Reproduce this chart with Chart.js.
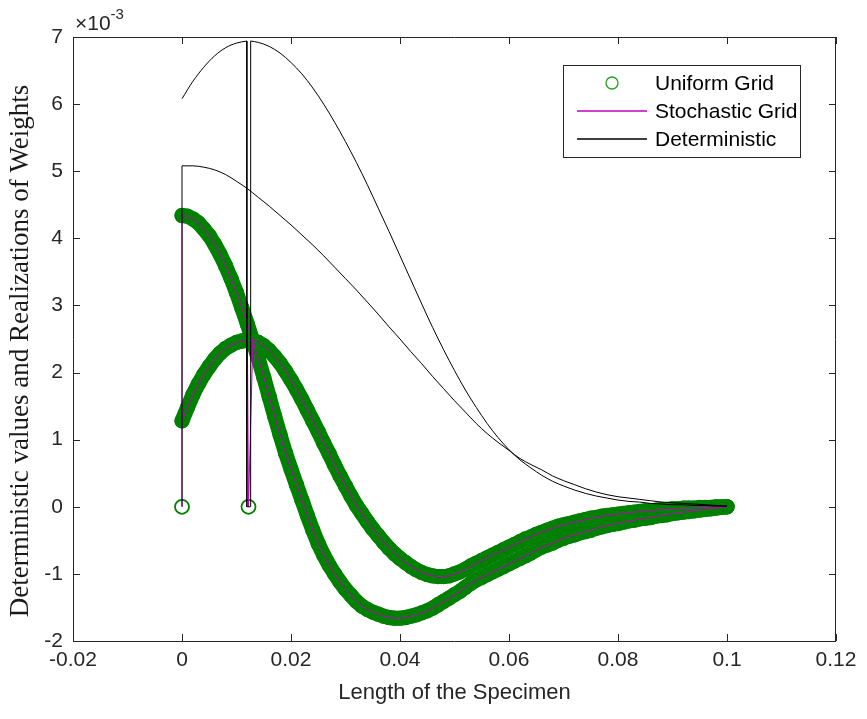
<!DOCTYPE html>
<html>
<head>
<meta charset="utf-8">
<script src="https://cdn.jsdelivr.net/npm/chart.js@4.4.1/dist/chart.umd.min.js"></script>
<style>
  html, body { margin: 0; padding: 0; background: #fff; }
  #wrap { position: relative; width: 867px; height: 719px; }
</style>
</head>
<body>
<div id="wrap"><canvas id="weightsChart"></canvas></div>
<script>
// x positions of the uniform grid (length of the specimen)
const gridX = [
  0, 0.001, 0.002, 0.003, 0.004, 0.005, 0.006, 0.007, 0.008, 0.009,
  0.010, 0.011, 0.012, 0.013, 0.014, 0.015, 0.016, 0.017, 0.018, 0.019,
  0.020, 0.021, 0.022, 0.023, 0.024, 0.025, 0.026, 0.027, 0.028, 0.029,
  0.030, 0.031, 0.032, 0.033, 0.034, 0.035, 0.036, 0.037, 0.038, 0.039,
  0.040, 0.041, 0.042, 0.043, 0.044, 0.045, 0.046, 0.047, 0.048, 0.049,
  0.050, 0.051, 0.052, 0.053, 0.054, 0.055, 0.056, 0.057, 0.058, 0.059,
  0.060, 0.061, 0.062, 0.063, 0.064, 0.065, 0.066, 0.067, 0.068, 0.069,
  0.070, 0.071, 0.072, 0.073, 0.074, 0.075, 0.076, 0.077, 0.078, 0.079,
  0.080, 0.081, 0.082, 0.083, 0.084, 0.085, 0.086, 0.087, 0.088, 0.089,
  0.090, 0.091, 0.092, 0.093, 0.094, 0.095, 0.096, 0.097, 0.098, 0.099,
  0.100
];

// realization peaked at x = 0 (values x 1e-3)
const weightsA = [
  4.34, 4.33, 4.29, 4.23, 4.14, 4.04, 3.91, 3.76, 3.59, 3.40,
  3.19, 2.96, 2.72, 2.47, 2.21, 1.93, 1.64, 1.35, 1.07, 0.80,
  0.56, 0.33, 0.10, -0.13, -0.35, -0.55, -0.72, -0.87, -1.00, -1.12,
  -1.23, -1.32, -1.41, -1.48, -1.53, -1.57, -1.60, -1.63, -1.65, -1.66,
  -1.66, -1.65, -1.63, -1.61, -1.58, -1.55, -1.51, -1.46, -1.41, -1.36,
  -1.31, -1.26, -1.20, -1.14, -1.09, -1.05, -1.01, -0.97, -0.93, -0.89,
  -0.85, -0.81, -0.77, -0.73, -0.69, -0.64, -0.60, -0.57, -0.54, -0.50,
  -0.47, -0.44, -0.42, -0.39, -0.37, -0.35, -0.32, -0.30, -0.28, -0.26,
  -0.25, -0.23, -0.21, -0.20, -0.18, -0.17, -0.16, -0.14, -0.13, -0.12,
  -0.10, -0.09, -0.08, -0.07, -0.06, -0.05, -0.04, -0.03, -0.02, -0.01,
  0.00
];

// realization peaked near x = 0.012 (values x 1e-3)
const weightsB = [
  1.28, 1.48, 1.67, 1.83, 1.97, 2.09, 2.20, 2.29, 2.36, 2.41,
  2.45, 2.47, 2.48, 2.48, 2.45, 2.40, 2.33, 2.24, 2.14, 2.02,
  1.89, 1.75, 1.60, 1.44, 1.28, 1.12, 0.95, 0.79, 0.62, 0.46,
  0.31, 0.16, 0.02, -0.10, -0.22, -0.33, -0.43, -0.53, -0.62, -0.70,
  -0.77, -0.83, -0.89, -0.94, -0.98, -1.01, -1.03, -1.04, -1.04, -1.03,
  -1.00, -0.97, -0.93, -0.88, -0.84, -0.80, -0.76, -0.72, -0.68, -0.64,
  -0.60, -0.56, -0.52, -0.48, -0.45, -0.41, -0.38, -0.35, -0.32, -0.29,
  -0.27, -0.25, -0.23, -0.21, -0.19, -0.17, -0.16, -0.14, -0.13, -0.12,
  -0.11, -0.10, -0.09, -0.08, -0.07, -0.06, -0.06, -0.05, -0.04, -0.04,
  -0.03, -0.03, -0.02, -0.02, -0.02, -0.01, -0.01, -0.01, 0.00, 0.00,
  0.00
];

// the two nodes where the weights drop to zero
const nodeX = [0, 0.0122];
const nodeY = [0, 0];

// deterministic weight centred on the 0.012 node: rising part, notch, falling part
const detTallLeftX = [0, 0.002, 0.004, 0.006, 0.008, 0.010, 0.0119];
const detTallLeftY = [6.08, 6.34, 6.55, 6.72, 6.84, 6.91, 6.94];
const detNotchX = [0.0119, 0.0119, 0.0126, 0.0126];
const detNotchY = [6.94, 0, 0, 6.94];
const detTallRightX = [
  0.0126, 0.014, 0.016, 0.018, 0.020, 0.022, 0.024, 0.026, 0.028, 0.030,
  0.032, 0.034, 0.036, 0.038, 0.040, 0.042, 0.044, 0.046, 0.048, 0.050,
  0.052, 0.054, 0.056, 0.058, 0.060, 0.062, 0.064, 0.066, 0.068, 0.070,
  0.072, 0.074, 0.076, 0.078, 0.080, 0.082, 0.084, 0.086, 0.088, 0.090,
  0.092, 0.094, 0.096, 0.098, 0.100
];
const detTallRightY = [
  6.94, 6.92, 6.86, 6.76, 6.62, 6.45, 6.24, 6.00, 5.73, 5.44,
  5.13, 4.80, 4.45, 4.10, 3.74, 3.38, 3.02, 2.67, 2.34, 2.03,
  1.74, 1.48, 1.24, 1.03, 0.85, 0.70, 0.58, 0.47, 0.38, 0.31,
  0.25, 0.20, 0.16, 0.13, 0.10, 0.08, 0.07, 0.05, 0.04, 0.03,
  0.03, 0.02, 0.02, 0.01, 0.01
];

// deterministic weight centred on the 0 node
const detWideStemX = [0, 0];
const detWideStemY = [0, 5.08];
const detWideX = [
  0, 0.002, 0.004, 0.006, 0.008, 0.010, 0.012, 0.014, 0.016, 0.018,
  0.020, 0.022, 0.024, 0.026, 0.028, 0.030, 0.032, 0.034, 0.036, 0.038,
  0.040, 0.042, 0.044, 0.046, 0.048, 0.050, 0.052, 0.054, 0.056, 0.058,
  0.060, 0.062, 0.064, 0.066, 0.068, 0.070, 0.072, 0.074, 0.076, 0.078,
  0.080, 0.082, 0.084, 0.086, 0.088, 0.090, 0.092, 0.094, 0.096, 0.098,
  0.100
];
const detWideY = [
  5.08, 5.08, 5.06, 5.02, 4.95, 4.85, 4.74, 4.61, 4.48, 4.34,
  4.20, 4.05, 3.90, 3.74, 3.57, 3.40, 3.23, 3.05, 2.87, 2.68,
  2.50, 2.31, 2.13, 1.94, 1.76, 1.58, 1.41, 1.24, 1.09, 0.96,
  0.84, 0.72, 0.63, 0.55, 0.46, 0.39, 0.33, 0.27, 0.22, 0.18,
  0.15, 0.13, 0.11, 0.09, 0.07, 0.06, 0.05, 0.04, 0.03, 0.02,
  0.01
];

const xTicks = [-0.02, 0, 0.02, 0.04, 0.06, 0.08, 0.1, 0.12];
const xTickLabels = ['-0.02', '0', '0.02', '0.04', '0.06', '0.08', '0.1', '0.12'];
const yTicks = [-2, -1, 0, 1, 2, 3, 4, 5, 6, 7];
const yTickLabels = ['-2', '-1', '0', '1', '2', '3', '4', '5', '6', '7'];
const legendLabels = ['Uniform Grid', 'Stochastic Grid', 'Deterministic'];
const yTitle = 'Deterministic values and Realizations of Weights';

const GREEN = '#008000';
const PURPLE = '#c000c0';
const AXIS = '#262626';
const SANS = '"Liberation Sans", Arial, sans-serif';
const SERIF = '"Liberation Serif", "Times New Roman", serif';

function pairs(xs, ys) {
  return xs.map((x, i) => ({ x: x, y: ys[i] }));
}

const lineA = pairs(gridX, weightsA);
const lineB = pairs(gridX, weightsB);

// node at 0 belongs to realization A, node at 0.0122 to realization B
const stochA = [{ x: nodeX[0], y: nodeY[0] }].concat(lineA);
const stochB = lineB.slice(0, 13).concat([{ x: nodeX[1], y: nodeY[1] }], lineB.slice(13));

// box, inward ticks, exponent, y label and legend in MATLAB style
const matlabFrame = {
  id: 'matlabFrame',
  afterDatasetsDraw(chart) {
    const { ctx, chartArea: a, scales: { x, y } } = chart;
    ctx.save();
    ctx.strokeStyle = AXIS;
    ctx.lineWidth = 1;
    ctx.beginPath();
    ctx.rect(a.left + 0.5, a.top + 0.5, a.right - a.left - 1, a.bottom - a.top);
    xTicks.forEach(v => {
      const px = Math.round(x.getPixelForValue(v)) + 0.5;
      ctx.moveTo(px, a.bottom); ctx.lineTo(px, a.bottom - 7);
      ctx.moveTo(px, a.top); ctx.lineTo(px, a.top + 7);
    });
    yTicks.forEach(v => {
      const py = Math.round(y.getPixelForValue(v)) + 0.5;
      ctx.moveTo(a.left, py); ctx.lineTo(a.left + 7, py);
      ctx.moveTo(a.right, py); ctx.lineTo(a.right - 7, py);
    });
    ctx.stroke();

    // x 10^-3 multiplier
    ctx.fillStyle = AXIS;
    ctx.textBaseline = 'alphabetic';
    ctx.textAlign = 'left';
    ctx.font = '21px ' + SANS;
    ctx.fillText('\u00d710', a.left + 2, a.top - 7);
    const w = ctx.measureText('\u00d710').width;
    ctx.font = '15px ' + SANS;
    ctx.fillText('-3', a.left + 2 + w, a.top - 18);

    // y axis label (LaTeX style serif)
    ctx.save();
    ctx.translate(21, a.top + 314);
    ctx.rotate(-Math.PI / 2);
    ctx.textAlign = 'center';
    ctx.textBaseline = 'middle';
    ctx.font = '27px ' + SERIF;
    ctx.fillStyle = '#1a1a1a';
    ctx.fillText(yTitle, 0, 0);
    ctx.restore();

    // legend
    const boxR = a.right - 36, boxT = a.top + 28, boxW = 237, rowH = 28;
    const boxL = boxR - boxW;
    ctx.fillStyle = '#fff';
    ctx.fillRect(boxL, boxT, boxW, rowH * 3 + 8);
    ctx.strokeStyle = AXIS;
    ctx.lineWidth = 1;
    ctx.strokeRect(boxL + 0.5, boxT + 0.5, boxW, rowH * 3 + 8);
    ctx.font = '21px ' + SANS;
    ctx.textBaseline = 'middle';
    legendLabels.forEach((label, i) => {
      const cy = boxT + 18 + i * rowH;
      if (i === 0) {
        ctx.strokeStyle = '#22a022';
        ctx.lineWidth = 1.3;
        ctx.beginPath();
        ctx.arc(boxL + 49, cy, 6, 0, Math.PI * 2);
        ctx.stroke();
      } else {
        ctx.strokeStyle = i === 1 ? PURPLE : '#000';
        ctx.lineWidth = 1.4;
        ctx.beginPath();
        ctx.moveTo(boxL + 14, cy);
        ctx.lineTo(boxL + 84, cy);
        ctx.stroke();
      }
      ctx.fillStyle = '#000';
      ctx.fillText(label, boxL + 92, cy + 1);
    });
    ctx.restore();
  }
};

function lineSet(data, color, order, smooth) {
  return {
    data: data, showLine: true, borderColor: color, borderWidth: 1,
    pointRadius: 0, order: order, fill: false,
    cubicInterpolationMode: smooth ? 'monotone' : 'default'
  };
}

// the uniform-grid circles sit so close together that they merge into a band
function bandSet(data) {
  return {
    data: data, showLine: true, borderColor: GREEN, borderWidth: 15,
    borderCapStyle: 'round', borderJoinStyle: 'round',
    pointStyle: 'circle', pointRadius: 7, pointBorderWidth: 1.3,
    pointBorderColor: GREEN, pointBackgroundColor: 'rgba(0,0,0,0)', order: 3
  };
}

const ctx = document.getElementById('weightsChart').getContext('2d');
new Chart(ctx, {
  type: 'scatter',
  data: {
    datasets: [
      bandSet(lineA),
      bandSet(lineB),
      {
        data: pairs(nodeX, nodeY), showLine: false,
        pointStyle: 'circle', pointRadius: 7, pointBorderWidth: 1.8,
        pointBorderColor: GREEN, pointBackgroundColor: 'rgba(0,0,0,0)', order: 3
      },
      lineSet(stochA, PURPLE, 2, false),
      lineSet(stochB, PURPLE, 2, false),
      lineSet(pairs(detTallLeftX, detTallLeftY), '#000', 1, true),
      lineSet(pairs(detNotchX, detNotchY), '#000', 1, false),
      lineSet(pairs(detTallRightX, detTallRightY), '#000', 1, true),
      lineSet(pairs(detWideStemX, detWideStemY), '#000', 1, false),
      lineSet(pairs(detWideX, detWideY), '#000', 1, true)
    ]
  },
  options: {
    responsive: true,
    maintainAspectRatio: false,
    animation: false,
    layout: { padding: { top: 37, right: 31, left: 0, bottom: 0 } },
    plugins: {
      legend: { display: false },
      tooltip: { enabled: false }
    },
    scales: {
      x: {
        type: 'linear', min: -0.02, max: 0.12,
        afterBuildTicks: scale => { scale.ticks = xTicks.map(v => ({ value: v })); },
        afterFit: scale => { scale.height = 78; },
        grid: { display: false, drawTicks: false },
        border: { display: false },
        ticks: {
          color: AXIS, padding: 7, maxRotation: 0, autoSkip: false,
          font: { family: SANS, size: 21 },
          callback: v => xTickLabels[xTicks.indexOf(v)]
        },
        title: {
          display: true, text: 'Length of the Specimen', color: AXIS,
          font: { family: SANS, size: 22, lineHeight: 1.2 },
          padding: { top: 0, bottom: 13 }
        }
      },
      y: {
        type: 'linear', min: -2, max: 7,
        afterBuildTicks: scale => { scale.ticks = yTicks.map(v => ({ value: v })); },
        afterFit: scale => { scale.width = 73; },
        grid: { display: false, drawTicks: false },
        border: { display: false },
        ticks: {
          color: AXIS, padding: 10, autoSkip: false,
          font: { family: SANS, size: 21 },
          callback: v => yTickLabels[yTicks.indexOf(v)]
        }
      }
    }
  },
  plugins: [matlabFrame]
});
</script>
</body>
</html>
